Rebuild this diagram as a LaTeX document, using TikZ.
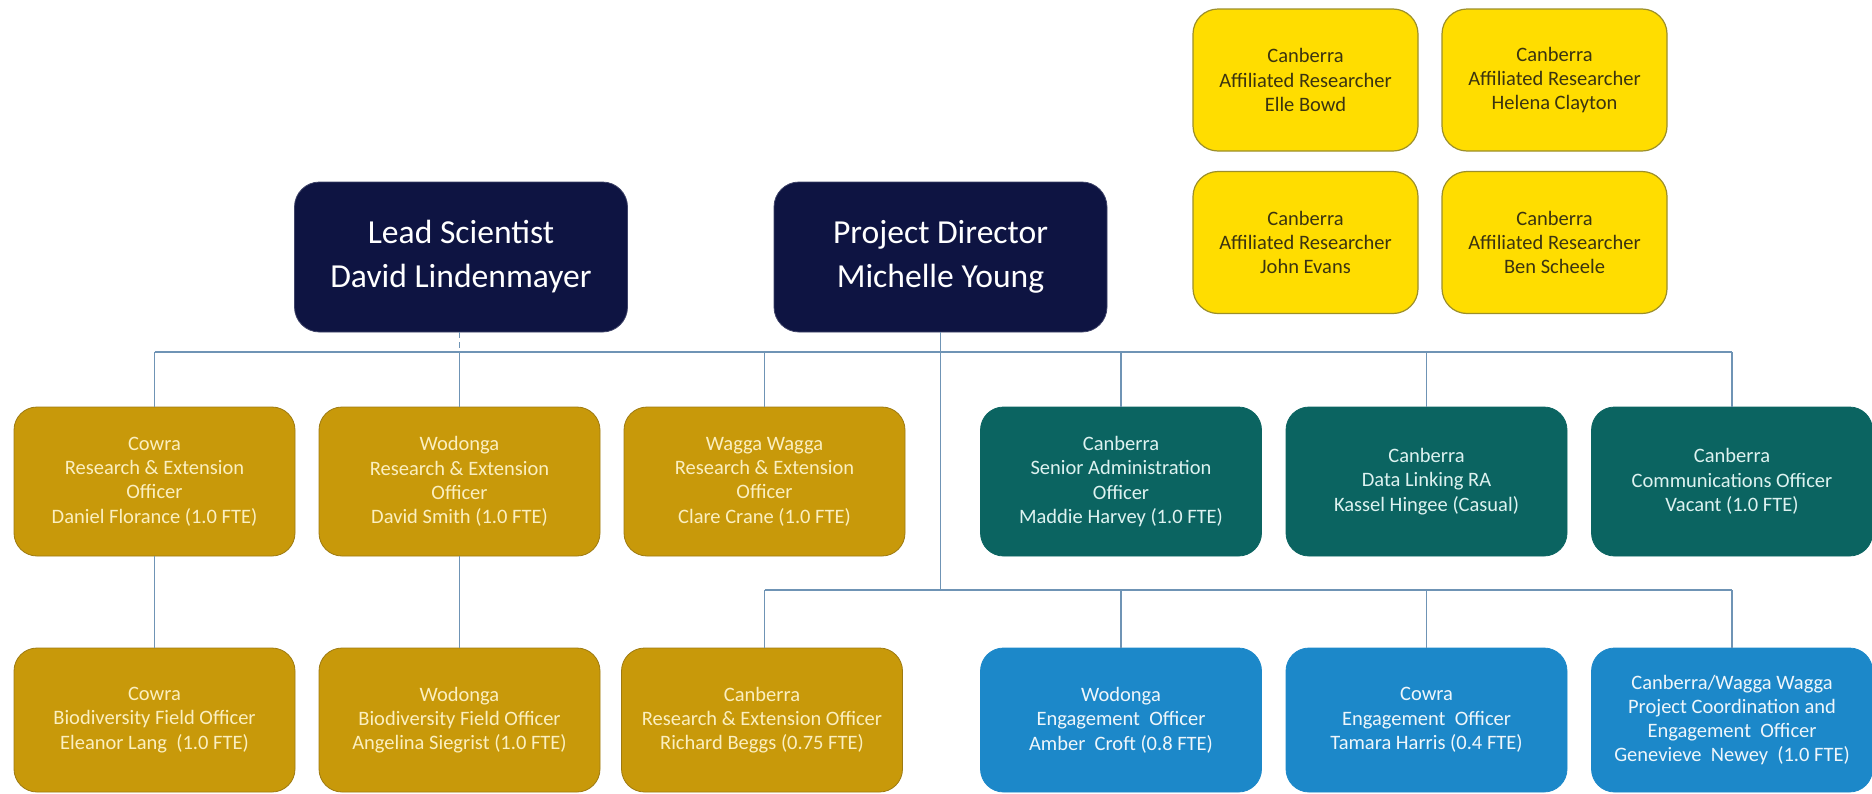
\documentclass[tikz,border=0pt]{standalone}
\usepackage{fontspec}
\setmainfont{Carlito}
\definecolor{navy}{HTML}{0E1442}
\definecolor{gold}{HTML}{C8990A}
\definecolor{golddk}{HTML}{9E7A10}
\definecolor{goldtxt}{HTML}{FBEFC0}
\definecolor{teal}{HTML}{0B6461}
\definecolor{tealtxt}{HTML}{DDF2F0}
\definecolor{blu}{HTML}{1C88C9}
\definecolor{blutxt}{HTML}{EEF6FB}
\definecolor{yel}{HTML}{FFDD00}
\definecolor{yeldk}{HTML}{9C8F2A}
\definecolor{yeltxt}{HTML}{3B3410}
\definecolor{conn}{HTML}{6F94B5}
\begin{document}
\begin{tikzpicture}[x=0.5pt,y=-0.5pt,
  basebox/.style={rounded corners=11.5pt, inner sep=0pt, align=center,
    font=\fontsize{10.25}{12.15}\selectfont},
  lead/.style={basebox, fill=navy, draw=navy!80!white, line width=0.4pt, text=white,
    minimum width=166.5pt, minimum height=75pt, rounded corners=12.5pt,
    font=\fontsize{16.8}{22}\selectfont},
  affil/.style={basebox, fill=yel, draw=yeldk, line width=0.6pt, text=yeltxt,
    minimum width=112.5pt, minimum height=71pt, rounded corners=12.5pt},
  goldbox/.style={basebox, fill=gold, draw=golddk, line width=0.4pt, text=goldtxt,
    minimum width=140.5pt, minimum height=74.5pt},
  tealbox/.style={basebox, fill=teal, draw=teal, text=tealtxt,
    minimum width=140.5pt, minimum height=74.5pt},
  bluebox/.style={basebox, fill=blu, draw=blu, text=blutxt,
    minimum width=140.5pt, minimum height=72pt},
  low/.style={minimum height=72pt},
  link/.style={draw=conn, line width=0.75pt},
  dashlink/.style={link, dashed, dash pattern=on 3pt off 2pt}
]
\useasboundingbox (0,0) rectangle (1872,793);

% leaders
\node[lead] (ls) at (461,257) {Lead Scientist\\David Lindenmayer};
\node[lead] (pd) at (940.5,257) {Project Director\\Michelle Young};

% affiliated researchers
\node[affil] (a1) at (1305.5,80) {Canberra\\Affiliated Researcher\\Elle Bowd};
\node[affil] (a2) at (1554.5,80) {Canberra\\Affiliated Researcher\\Helena Clayton};
\node[affil] (a3) at (1305.5,242.5) {Canberra\\Affiliated Researcher\\John Evans};
\node[affil] (a4) at (1554.5,242.5) {Canberra\\Affiliated Researcher\\Ben Scheele};

% row 2
\node[goldbox] (r1) at (154.5,481.5) {Cowra\\Research \& Extension\\Officer\\Daniel Florance (1.0 FTE)};
\node[goldbox] (r2) at (459.5,481.5) {Wodonga\\Research \& Extension\\Officer\\David Smith (1.0 FTE)};
\node[goldbox] (r3) at (764.5,481.5) {Wagga Wagga\\Research \& Extension\\Officer\\Clare Crane (1.0 FTE)};
\node[tealbox] (r4) at (1121,481.5) {Canberra\\Senior Administration\\Officer\\Maddie Harvey (1.0 FTE)};
\node[tealbox] (r5) at (1426.5,481.5) {Canberra\\Data Linking RA\\Kassel Hingee (Casual)};
\node[tealbox] (r6) at (1732,481.5) {Canberra\\Communications Officer\\Vacant (1.0 FTE)};

% row 3
\node[goldbox,low] (s1) at (154.5,720) {Cowra\\Biodiversity Field Officer\\Eleanor Lang\ \ (1.0 FTE)};
\node[goldbox,low] (s2) at (459.5,720) {Wodonga\\Biodiversity Field Officer\\Angelina Siegrist (1.0 FTE)};
\node[goldbox,low] (s3) at (762,720) {Canberra\\Research \& Extension Officer\\Richard Beggs (0.75 FTE)};
\node[bluebox] (s4) at (1121,720) {Wodonga\\Engagement\ \ Officer\\Amber\ \ Croft (0.8 FTE)};
\node[bluebox] (s5) at (1426.5,720) {Cowra\\Engagement\ \ Officer\\Tamara Harris (0.4 FTE)};
\node[bluebox] (s6) at (1732,720) {Canberra/Wagga Wagga\\Project Coordination and\\Engagement\ \ Officer\\Genevieve\ \ Newey\ \ (1.0 FTE)};

% bus coordinates
\coordinate (bus1) at (0,352);
\coordinate (bus2) at (0,590);

% upper bus
\draw[link] (r1.north |- bus1) -- (r6.north |- bus1);
\foreach \n in {r1,r3,r4,r5,r6} \draw[link] (\n.north |- bus1) -- (\n.north);
\draw[dashlink] (r2.north |- ls.south) -- (r2.north |- bus1);
\draw[link] (r2.north |- bus1) -- (r2.north);

% project director trunk and lower bus
\draw[link] (pd.south) -- (pd.south |- bus2);
\draw[link] (r3.north |- bus2) -- (s6.north |- bus2);
\draw[link] (r3.north |- bus2) -- (r3.north |- s3.north);
\foreach \n in {s4,s5,s6} \draw[link] (\n.north |- bus2) -- (\n.north);

% direct reports
\draw[link] (r1.south) -- (s1.north);
\draw[link] (r2.south) -- (s2.north);
\end{tikzpicture}
\end{document}
